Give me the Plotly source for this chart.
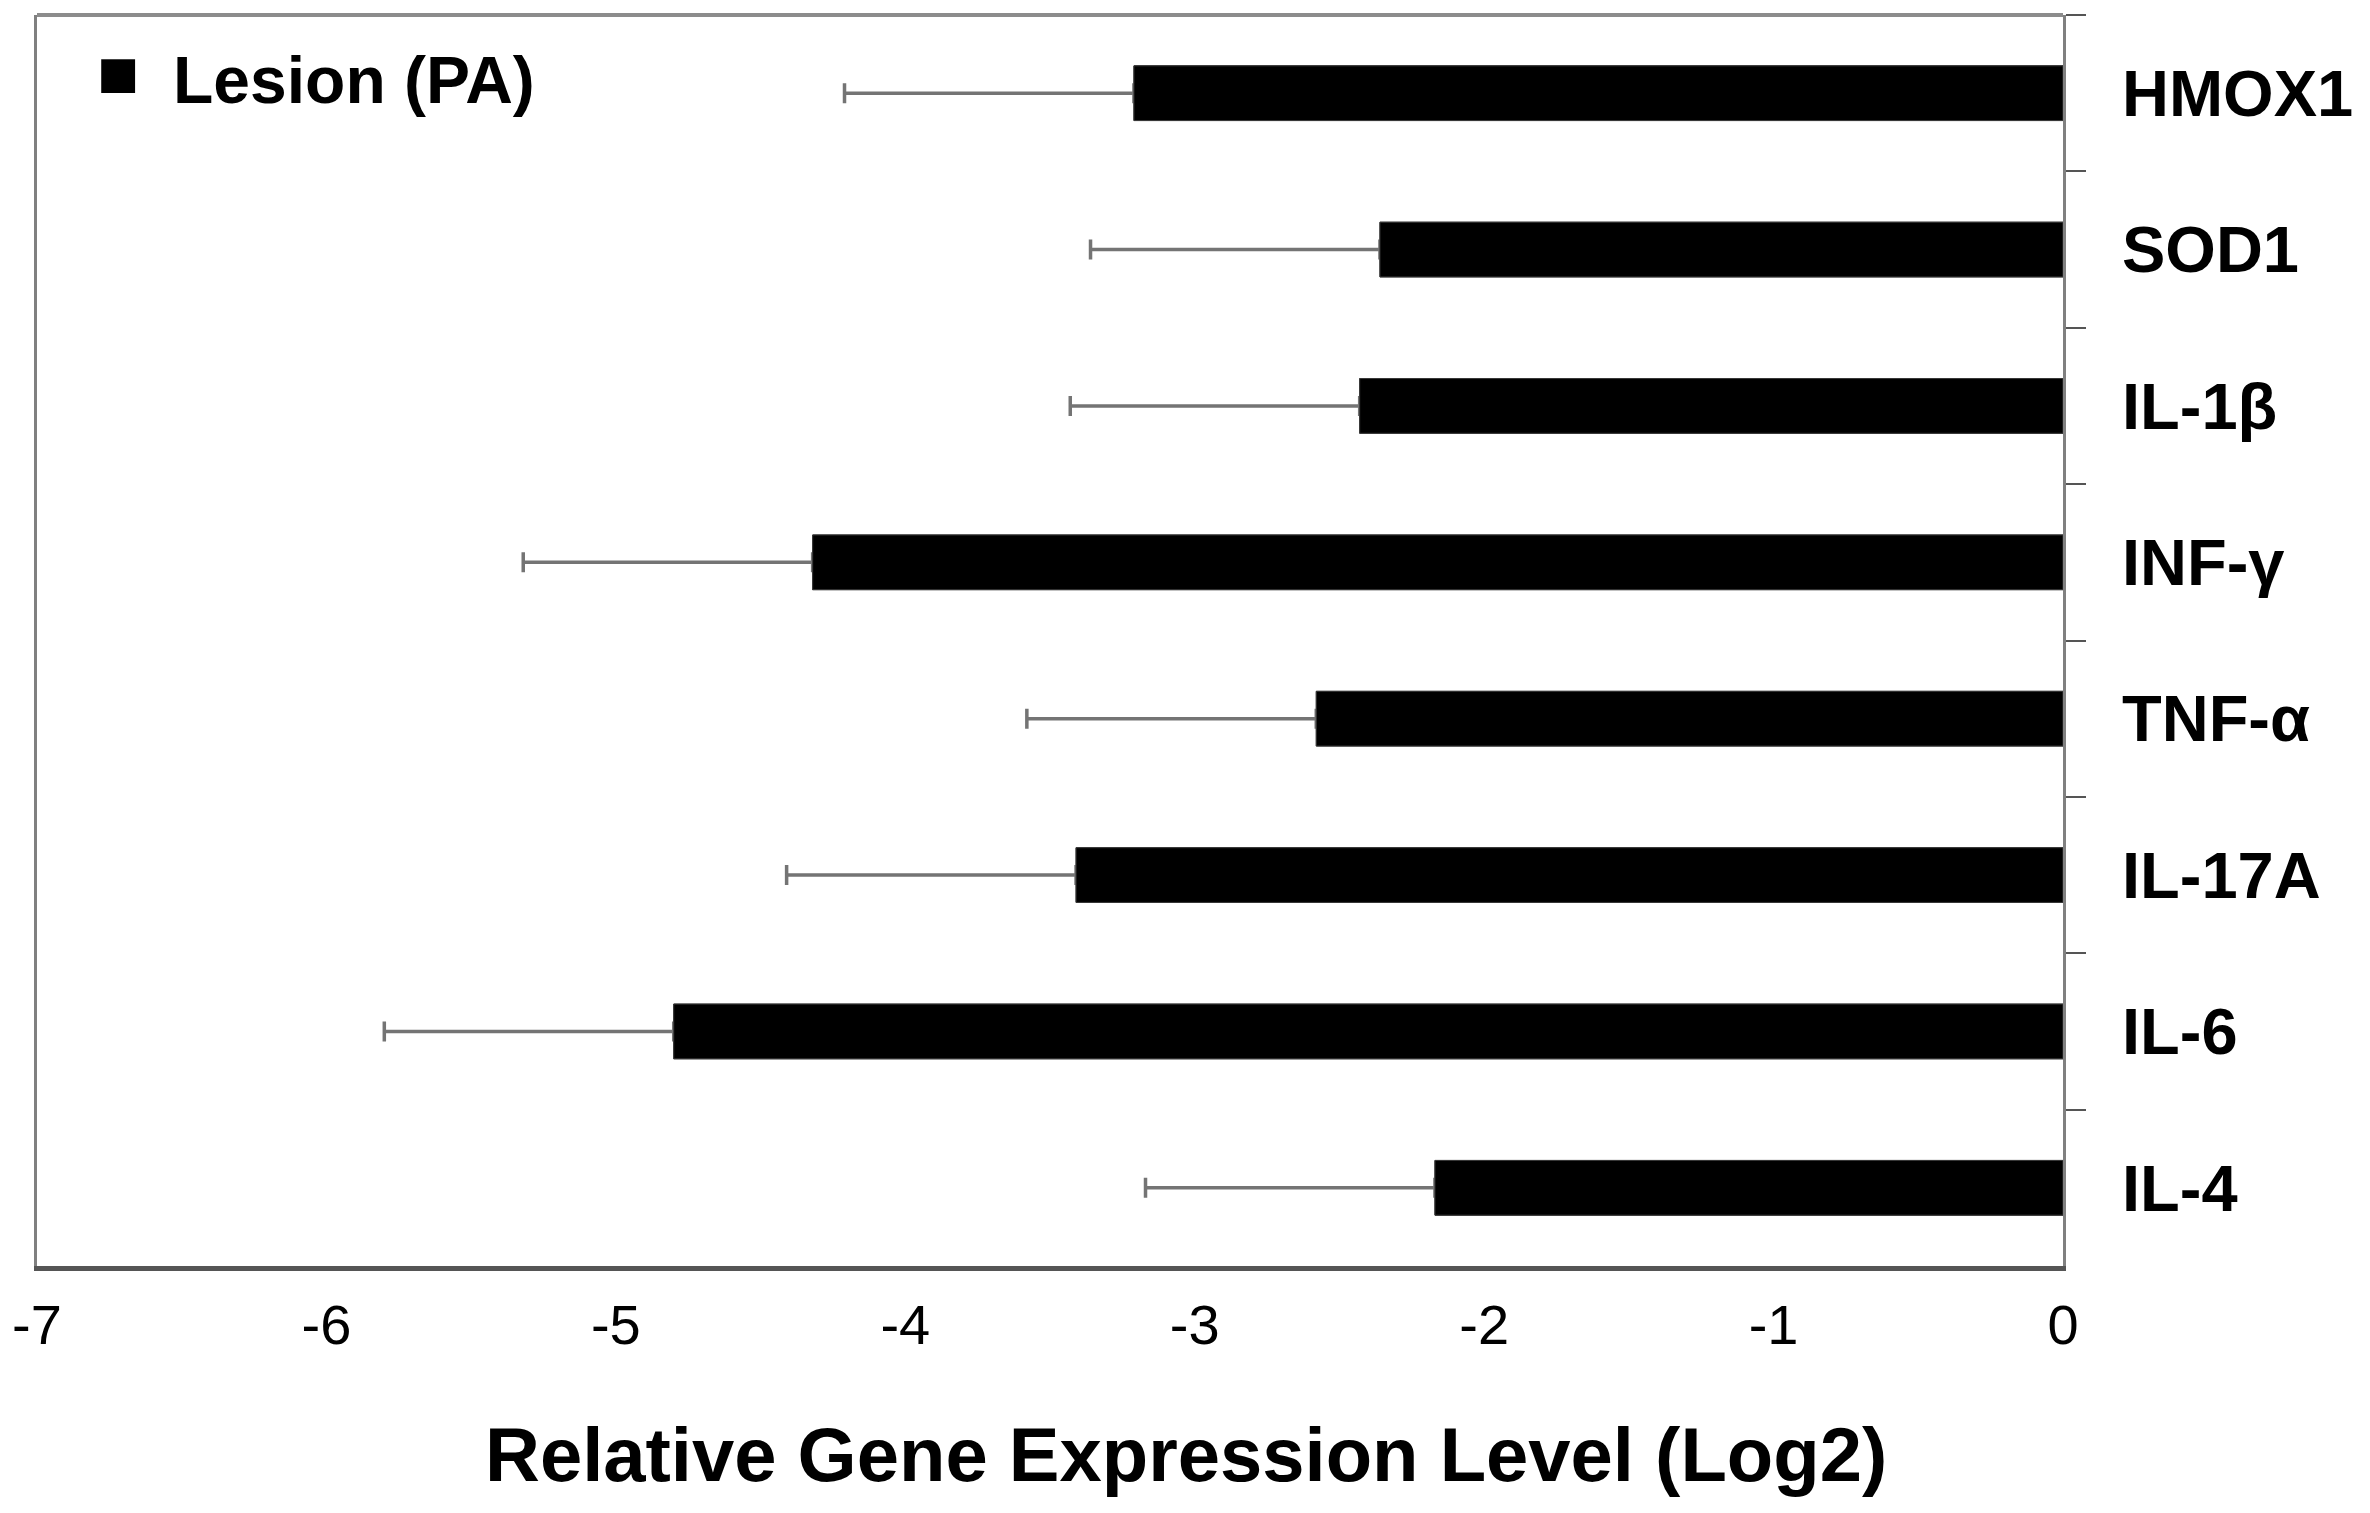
import plotly.graph_objects as go

genes = ["HMOX1", "SOD1", "IL-1β", "INF-γ", "TNF-α", "IL-17A", "IL-6", "IL-4"]
lesion_pa = [-3.21, -2.36, -2.43, -4.32, -2.58, -3.41, -4.80, -2.17]
lesion_pa_err = [1.0, 1.0, 1.0, 1.0, 1.0, 1.0, 1.0, 1.0]
x_ticks = [-7, -6, -5, -4, -3, -2, -1, 0]
series_name = "Lesion (PA)"
x_title = "Relative Gene Expression Level (Log2)"

W, H = 2370, 1513
ML, MR, MT, MB = 31, 307, 15, 247
PW = W - ML - MR
PH = H - MT - MB

fig = go.Figure()
# bars carrying the (minus-side) error bars
fig.add_trace(go.Bar(
    y=genes, x=lesion_pa, orientation="h", width=0.35,
    marker=dict(color="black", line=dict(color="#3a3a3a", width=1)),
    error_x=dict(type="data", symmetric=False, arrayminus=lesion_pa_err,
                 array=[0] * len(lesion_pa), color="#747474", thickness=3.5, width=10),
    showlegend=False, name=series_name,
))
# same bars drawn again on top so the error bars only show outside the bars
fig.add_trace(go.Bar(
    y=genes, x=lesion_pa, orientation="h", width=0.35,
    marker=dict(color="black", line=dict(color="#3a3a3a", width=1)),
    showlegend=False, name=series_name, hoverinfo="skip",
))

fig.update_layout(
    width=W, height=H,
    margin=dict(l=ML, r=MR, t=MT, b=MB, pad=0),
    paper_bgcolor="white", plot_bgcolor="white",
    barmode="overlay",
    showlegend=False,
    font=dict(family="Liberation Sans, Arial, sans-serif", color="black"),
    xaxis=dict(
        range=[-7, 0], tickmode="array", tickvals=x_ticks,
        ticktext=[str(v) for v in x_ticks],
        ticks="", showgrid=False, zeroline=False,
        showline=True, linecolor="#555555", linewidth=5,
        tickfont=dict(family="Liberation Sans Narrow, Liberation Sans, Arial", size=56, color="black"),
        ticklabelstandoff=6,
    ),
    yaxis=dict(
        type="category", categoryorder="array", categoryarray=genes,
        autorange="reversed", side="right",
        showline=True, linecolor="#808080", linewidth=3, mirror=True,
        ticks="outside", ticklen=20, tickwidth=2, tickcolor="#555555",
        tickson="boundaries", showgrid=False, zeroline=False,
        tickfont=dict(family="Liberation Sans, Arial", size=65, color="black", weight="bold"),
        ticklabelstandoff=43,
    ),
    shapes=[dict(type="line", xref="paper", yref="paper", x0=0, x1=1, y0=1, y1=1,
                 line=dict(color="#8c8c8c", width=4))],
    annotations=[
        dict(text="■", xref="paper", yref="paper",
             x=(112 - ML) / PW, y=1 - (73 - MT) / PH,
             xanchor="center", yanchor="middle", showarrow=False,
             font=dict(family="Liberation Sans, Arial", size=70, color="black")),
        dict(text="<b>" + series_name + "</b>", xref="paper", yref="paper",
             x=(165 - ML) / PW, y=1 - (80 - MT) / PH,
             xanchor="left", yanchor="middle", showarrow=False,
             font=dict(family="Liberation Sans, Arial", size=66, color="black")),
        dict(text="<b>" + x_title + "</b>", xref="paper", yref="paper",
             x=(1183 - ML) / PW, y=-(1454 - (MT + PH)) / PH,
             xanchor="center", yanchor="middle", showarrow=False,
             font=dict(family="Liberation Sans, Arial", size=76, color="black")),
    ],
)

fig.write_html(
    "out.html",
    config={"displayModeBar": False},
    post_script="document.body.style.margin='0';document.body.style.padding='0';"
                "document.body.style.overflow='hidden';",
)
